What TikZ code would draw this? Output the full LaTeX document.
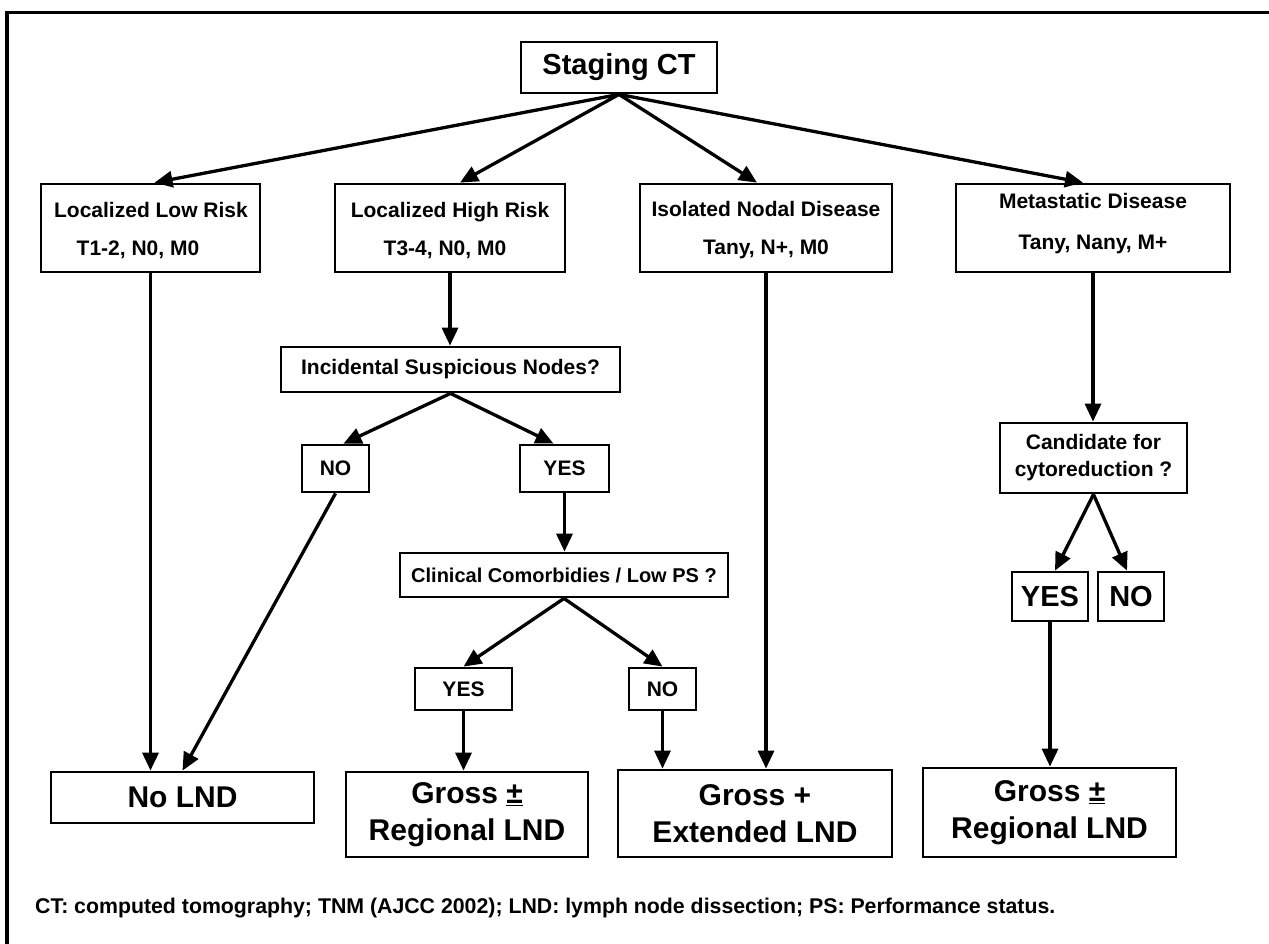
\documentclass[tikz,border=0pt]{standalone}
\usepackage{fontspec}
\setmainfont{Liberation Sans}
\usetikzlibrary{arrows.meta,calc}
\begin{document}
\begin{tikzpicture}[x=1pt,y=-1pt,
  box/.style={draw, line width=2.8pt, inner sep=0pt, align=center, font=\bfseries\fontsize{21}{37}\selectfont},
  plain/.style={inner sep=0pt, align=center, font=\bfseries\fontsize{21}{38}\selectfont},
  bigtext/.style={font=\bfseries\fontsize{30}{37}\selectfont},
  yn/.style={font=\bfseries\fontsize{29}{34}\selectfont},
  arr/.style={line width=3.3pt, -{Triangle[length=18pt,width=16pt]}},
]
\useasboundingbox (0,0) rectangle (1269,943);
\draw[line width=3.5pt] (7,12.5) rectangle (1271,962);

% top
\node[box, minimum width=196pt, minimum height=51pt, font=\bfseries\fontsize{29}{34}\selectfont] (stage) at (619,67.5) {Staging CT};

% categories (boxes, then their texts)
\node[box, minimum width=219pt, minimum height=88pt] (low) at (150.5,228) {};
\node[plain] (lowtext) at (151,231) {Localized Low Risk\\T1-2, N0, M0\hspace*{26pt}};
\node[box, minimum width=230pt, minimum height=88pt] (high) at (450,228) {};
\node[plain] (hightext) at (450,231) {Localized High Risk\\T3-4, N0, M0\hspace*{10pt}};
\node[box, minimum width=252pt, minimum height=88pt] (nodal) at (766,228) {};
\node[plain] (nodaltext) at (766,230) {Isolated Nodal Disease\\Tany, N+, M0};
\node[box, minimum width=274pt, minimum height=88pt] (meta) at (1093,228) {};
\node[plain, font=\bfseries\fontsize{21}{41}\selectfont] (metatext) at (1093,224) {Metastatic Disease\\Tany, Nany, M+};

% middle branch
\node[box, minimum width=339pt, minimum height=45pt] (inc) at (450.5,369.5) {Incidental Suspicious Nodes?};
\node[box, minimum width=67pt, minimum height=47pt] (no1) at (335.5,468.5) {NO};
\node[box, minimum width=89pt, minimum height=47pt] (yes1) at (564.5,468.5) {YES};
\node[box, minimum width=328pt, minimum height=44pt, font=\bfseries\fontsize{20}{30}\selectfont] (clin) at (564,575) {Clinical Comorbidies / Low PS ?};
\node[box, minimum width=97pt, minimum height=42pt] (yes2) at (463.5,689) {YES};
\node[box, minimum width=67pt, minimum height=42pt] (no2) at (662.5,689) {NO};

% metastatic branch
\node[box, minimum width=187pt, minimum height=70pt, font=\bfseries\fontsize{21}{27}\selectfont] (cand) at (1093.5,458) {Candidate for\\cytoreduction ?};
\node[box, yn, minimum width=76pt, minimum height=49pt] (yes3) at (1050,596.5) {YES};
\node[box, yn, minimum width=66pt, minimum height=49pt] (no3) at (1131,596.5) {NO};

% outcomes
\node[box, bigtext, minimum width=263pt, minimum height=51pt] (nolnd) at (182.5,797.5) {No LND};
\node[box, bigtext, minimum width=242pt, minimum height=85pt] (gr1) at (467,814.5) {Gross \underline{±}\\Regional LND};
\node[box, bigtext, minimum width=274pt, minimum height=87pt] (gr2) at (755,813.5) {Gross +\\Extended LND};
\node[box, bigtext, minimum width=253pt, minimum height=89pt] (gr3) at (1049.5,812.5) {Gross \underline{±}\\Regional LND};

% footer
\node[anchor=west, inner sep=0pt, font=\bfseries\fontsize{21.3}{24}\selectfont] (foot) at (35,908) {CT: computed tomography; TNM (AJCC 2002); LND: lymph node dissection; PS: Performance status.};

% connectors
\draw[arr] (stage.south) -- ($(low.north)+(4,0)$);
\draw[arr] (stage.south) -- ($(high.north)+(10,0)$);
\draw[arr] (stage.south) -- ($(nodal.north)+(-9,0)$);
\draw[arr] (stage.south) -- ($(meta.north)+(-10,0)$);

\draw[arr] (low.south) -- (low.south |- nolnd.north);
\draw[arr] (high.south) -- (high.south |- inc.north);
\draw[arr] (inc.south) -- ($(no1.north)+(8,0)$);
\draw[arr] (inc.south) -- ($(yes1.north)+(-11,0)$);
\draw[arr] (no1.south) -- (nolnd.north);
\draw[arr] (yes1.south) -- (yes1.south |- clin.north);
\draw[arr] (clin.south) -- (yes2.north);
\draw[arr] (clin.south) -- (no2.north);
\draw[arr] (yes2.south) -- (yes2.south |- gr1.north);
\draw[arr] (no2.south) -- (no2.south |- gr2.north);
\draw[arr] (nodal.south) -- (nodal.south |- gr2.north);

\draw[arr] (meta.south) -- (meta.south |- cand.north);
\draw[arr] (cand.south) -- ($(yes3.north)+(5,0)$);
\draw[arr] (cand.south) -- ($(no3.north)+(-4,0)$);
\draw[arr] (yes3.south) -- (yes3.south |- gr3.north);
\end{tikzpicture}
\end{document}
